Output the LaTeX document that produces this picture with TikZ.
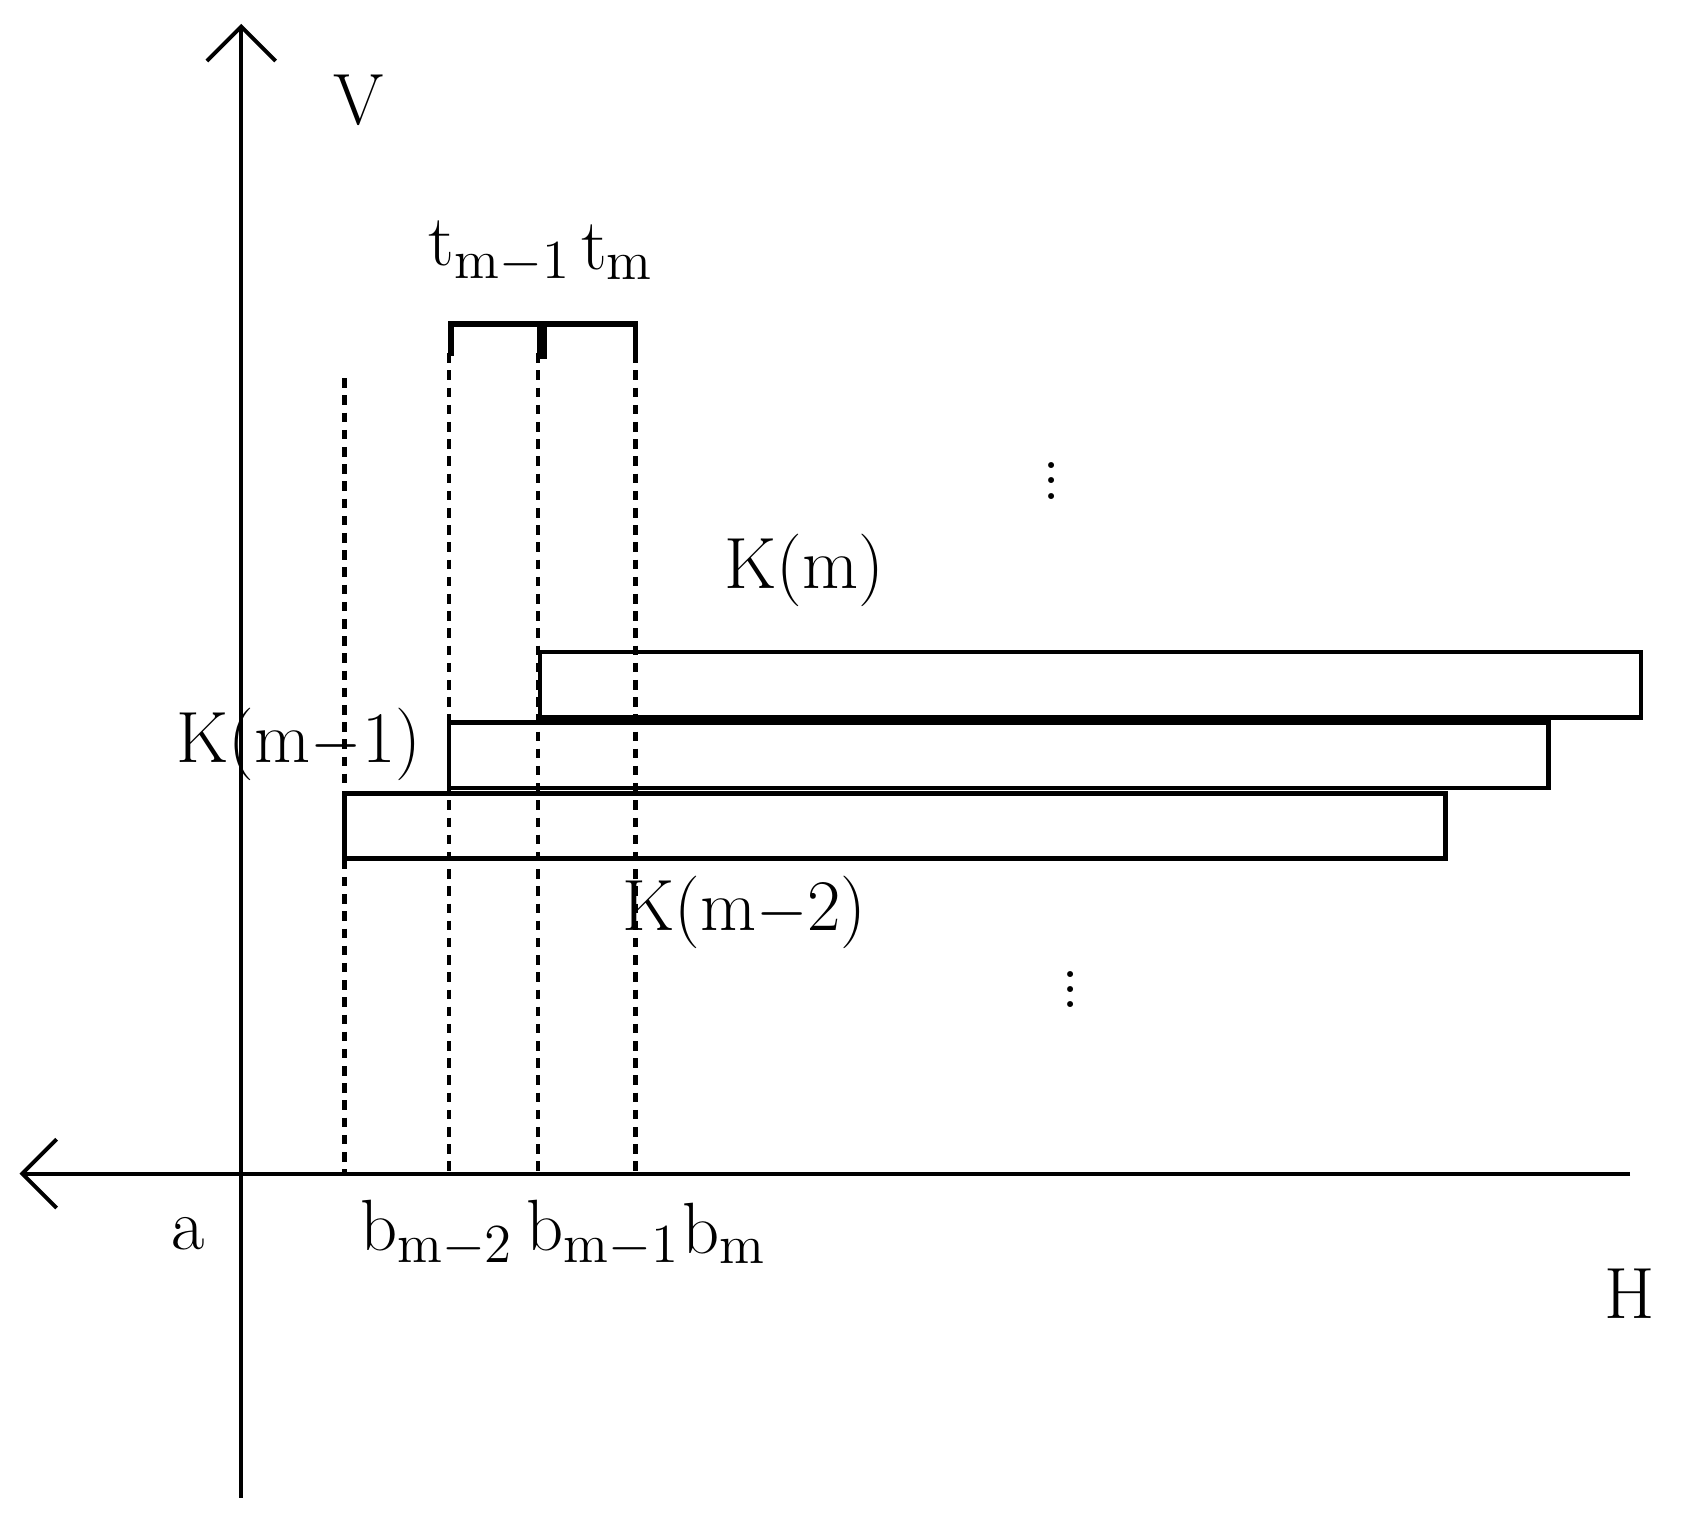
\documentclass[tikz,border=0pt]{standalone}
\usetikzlibrary{arrows.meta}
\begin{document}
\begin{tikzpicture}[x=0.01cm,y=-0.01cm,
  lbl/.style={font=\fontsize{19}{22}\selectfont,inner sep=0pt},
  axis/.style={line width=1pt,-{Straight Barb[length=9pt,width=18pt,line width=1pt]}},
  dots/.style={line width=1.2pt,dash pattern=on 2.5pt off 2pt},
  bar/.style={draw,line width=1.2pt}]
\useasboundingbox (0,0) rectangle (1568,1411);
\coordinate (v0) at (222,1378); \coordinate (v1) at (222,22);
\coordinate (h0) at (1500,1080); \coordinate (h1) at (18,1080);
\draw[axis] (v0) -- (v1);
\draw[axis] (h0) -- (h1);
\node[lbl] (V) at (330,92) {V};
\node[lbl] (H) at (1500,1190) {H};
\node[lbl] (a) at (173,1135) {a};
% rectangles
\draw[bar] (317,730) rectangle (1330,790);
\draw[bar] (413,665) rectangle (1425,725);
\draw[bar] (497,600) rectangle (1510,660);
% dotted lines
\coordinate (d1t) at (317,348); \coordinate (d1b) at (317,1080);
\coordinate (d2t) at (413,325); \coordinate (d2b) at (413,1080);
\coordinate (d3t) at (495,325); \coordinate (d3b) at (495,1080);
\coordinate (d4t) at (585,325); \coordinate (d4b) at (585,1080);
\draw[dots] (d1t) -- (d1b);
\draw[dots] (d2t) -- (d2b);
\draw[dots] (d3t) -- (d3b);
\draw[dots] (d4t) -- (d4b);
% bracket
\draw[line width=1.4pt] (415,328) -- (415,298) -- (585,298) -- (585,328);
\draw[line width=2.6pt] (499,298) -- (499,330);
\node[lbl] (tm1) at (460,232) {t$_{\mathrm{m-1}}$};
\node[lbl] (tm) at (568,232) {t$_{\mathrm{m}}$};
\node[lbl] (Km) at (740,525) {K(m)};
\node[lbl] (Km1) at (275,685) {K(m$-$1)};
\node[lbl] (Km2) at (685,840) {K(m$-$2)};
\node[lbl] (b2) at (402,1135) {b$_{\mathrm{m-2}}$};
\node[lbl] (b1) at (555,1135) {b$_{\mathrm{m-1}}$};
\node[lbl] (b0) at (667,1135) {b$_{\mathrm{m}}$};
\node[lbl] (vd1) at (968,432) {$\vdots$};
\node[lbl] (vd2) at (985,900) {$\vdots$};
\end{tikzpicture}
\end{document}
